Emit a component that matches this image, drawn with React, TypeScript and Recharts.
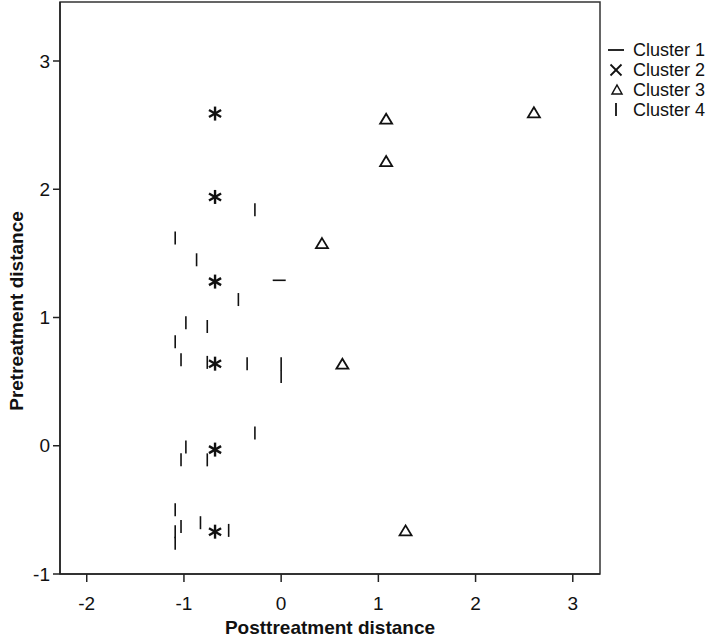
import { ScatterChart, Scatter, XAxis, YAxis, Legend, ReferenceArea } from 'recharts';

const xTicks = [-2, -1, 0, 1, 2, 3];
const yTicks = [-1, 0, 1, 2, 3];
const xDomain = [-2.275, 3.28];
const yDomain = [-1, 3.46];

const clusterNames = ['Cluster 1', 'Cluster 2', 'Cluster 3', 'Cluster 4'];

const cluster1 = [{ x: -0.02, y: 1.29 }];

const cluster2 = [
  { x: -0.68, y: 2.59 },
  { x: -0.68, y: 1.94 },
  { x: -0.68, y: 1.28 },
  { x: -0.68, y: 0.64 },
  { x: -0.68, y: -0.03 },
  { x: -0.68, y: -0.67 },
];

const cluster3 = [
  { x: 1.08, y: 2.55 },
  { x: 1.08, y: 2.22 },
  { x: 2.6, y: 2.6 },
  { x: 0.42, y: 1.58 },
  { x: 0.63, y: 0.64 },
  { x: 1.28, y: -0.66 },
];

const cluster4 = [
  { x: -0.27, y: 1.84 },
  { x: -1.09, y: 1.62 },
  { x: -0.87, y: 1.45 },
  { x: -0.44, y: 1.14 },
  { x: -0.98, y: 0.96 },
  { x: -0.76, y: 0.93 },
  { x: -1.09, y: 0.81 },
  { x: -1.03, y: 0.67 },
  { x: -0.76, y: 0.65 },
  { x: -0.35, y: 0.64 },
  { x: 0.0, y: 0.64 },
  { x: 0.0, y: 0.54 },
  { x: -0.27, y: 0.1 },
  { x: -0.98, y: -0.01 },
  { x: -1.03, y: -0.11 },
  { x: -0.76, y: -0.11 },
  { x: -1.09, y: -0.5 },
  { x: -1.03, y: -0.63 },
  { x: -1.09, y: -0.67 },
  { x: -1.09, y: -0.76 },
  { x: -0.83, y: -0.6 },
  { x: -0.54, y: -0.66 },
];

const INK = '#111';
const FONT = '"Liberation Sans", Arial, sans-serif';

const DashMark = (p: any) => (
  <line x1={p.cx - 6.5} x2={p.cx + 6.5} y1={p.cy} y2={p.cy} stroke={INK} strokeWidth={1.6} />
);

const BarMark = (p: any) => (
  <line x1={p.cx} x2={p.cx} y1={p.cy - 6.5} y2={p.cy + 6.5} stroke={INK} strokeWidth={1.6} />
);

const TriMark = (p: any) => (
  <path
    d={`M${p.cx},${p.cy - 5} L${p.cx + 6},${p.cy + 5} L${p.cx - 6},${p.cy + 5} Z`}
    fill="none"
    stroke={INK}
    strokeWidth={1.8}
  />
);

const StarMark = (p: any) => {
  const r = 7;
  const dx = r * 0.866;
  const dy = r * 0.5;
  return (
    <g stroke={INK} strokeWidth={2.4} strokeLinecap="butt">
      <line x1={p.cx} x2={p.cx} y1={p.cy - r} y2={p.cy + r} />
      <line x1={p.cx - dx} x2={p.cx + dx} y1={p.cy - dy} y2={p.cy + dy} />
      <line x1={p.cx - dx} x2={p.cx + dx} y1={p.cy + dy} y2={p.cy - dy} />
    </g>
  );
};

function LegendSymbol({ index }: { index: number }) {
  const c = 12;
  const m = 10;
  return (
    <svg width={24} height={20} style={{ display: 'block' }}>
      {index === 0 && <line x1={c - 8} x2={c + 8} y1={m} y2={m} stroke={INK} strokeWidth={1.8} />}
      {index === 1 && (
        <g stroke={INK} strokeWidth={1.8}>
          <line x1={c - 5.5} x2={c + 5.5} y1={m - 5.5} y2={m + 5.5} />
          <line x1={c - 5.5} x2={c + 5.5} y1={m + 5.5} y2={m - 5.5} />
        </g>
      )}
      {index === 2 && (
        <path d={`M${c + 1},${m - 5} L${c + 6},${m + 4} L${c - 4},${m + 4} Z`} fill="none" stroke={INK} strokeWidth={1.5} />
      )}
      {index === 3 && <line x1={c} x2={c} y1={m - 7} y2={m + 6} stroke={INK} strokeWidth={1.8} />}
    </svg>
  );
}

function ClusterLegend() {
  return (
    <div style={{ fontFamily: FONT, fontSize: 18, color: '#111' }}>
      {clusterNames.map((name, i) => (
        <div key={name} style={{ display: 'flex', alignItems: 'center', height: 20, lineHeight: '20px' }}>
          <LegendSymbol index={i} />
          <span style={{ marginLeft: 5, whiteSpace: 'nowrap' }}>{name}</span>
        </div>
      ))}
    </div>
  );
}

export default function App() {
  return (
    <div style={{ position: 'absolute', left: 0, top: 0, background: '#fff' }}>
      <ScatterChart width={714} height={640} margin={{ top: 2, right: 114, bottom: 0, left: 0 }}>
        <XAxis
          type="number"
          dataKey="x"
          domain={xDomain}
          ticks={xTicks}
          allowDataOverflow
          height={66}
          tickSize={8}
          tickMargin={15}
          stroke="#222"
          strokeWidth={1.5}
          tick={{ fill: '#111', fontSize: 19, fontFamily: FONT }}
          label={{
            content: (props: any) => {
              const vb = props.viewBox || {};
              const cx = vb.width ? vb.x + vb.width / 2 : 330;
              return (
                <text x={cx} y={634} textAnchor="middle" fontFamily={FONT} fontSize={19} fontWeight="bold" fill="#111">
                  Posttreatment distance
                </text>
              );
            },
          }}
        />
        <YAxis
          type="number"
          dataKey="y"
          domain={yDomain}
          ticks={yTicks}
          allowDataOverflow
          width={60}
          tickSize={7}
          tickMargin={3}
          stroke="#222"
          strokeWidth={1.5}
          tick={{ fill: '#111', fontSize: 19, fontFamily: FONT }}
          label={{
            content: () => (
              <text
                x={23}
                y={311}
                transform="rotate(-90, 23, 311)"
                textAnchor="middle"
                fontFamily={FONT}
                fontSize={19}
                fontWeight="bold"
                fill="#111"
              >
                Pretreatment distance
              </text>
            ),
          }}
        />
        <ReferenceArea
          x1={xDomain[0]}
          x2={xDomain[1]}
          y1={yDomain[0]}
          y2={yDomain[1]}
          fill="none"
          fillOpacity={0}
          stroke="#333"
          strokeWidth={1.5}
          ifOverflow="visible"
        />
        <Scatter name={clusterNames[0]} data={cluster1} shape={DashMark} isAnimationActive={false} />
        <Scatter name={clusterNames[1]} data={cluster2} shape={StarMark} isAnimationActive={false} />
        <Scatter name={clusterNames[2]} data={cluster3} shape={TriMark} isAnimationActive={false} />
        <Scatter name={clusterNames[3]} data={cluster4} shape={BarMark} isAnimationActive={false} />
        <Legend
          layout="vertical"
          verticalAlign="middle"
          align="center"
          content={() => <ClusterLegend />}
          wrapperStyle={{ position: 'absolute', left: 604, top: 40, width: 110 }}
        />
      </ScatterChart>
    </div>
  );
}
